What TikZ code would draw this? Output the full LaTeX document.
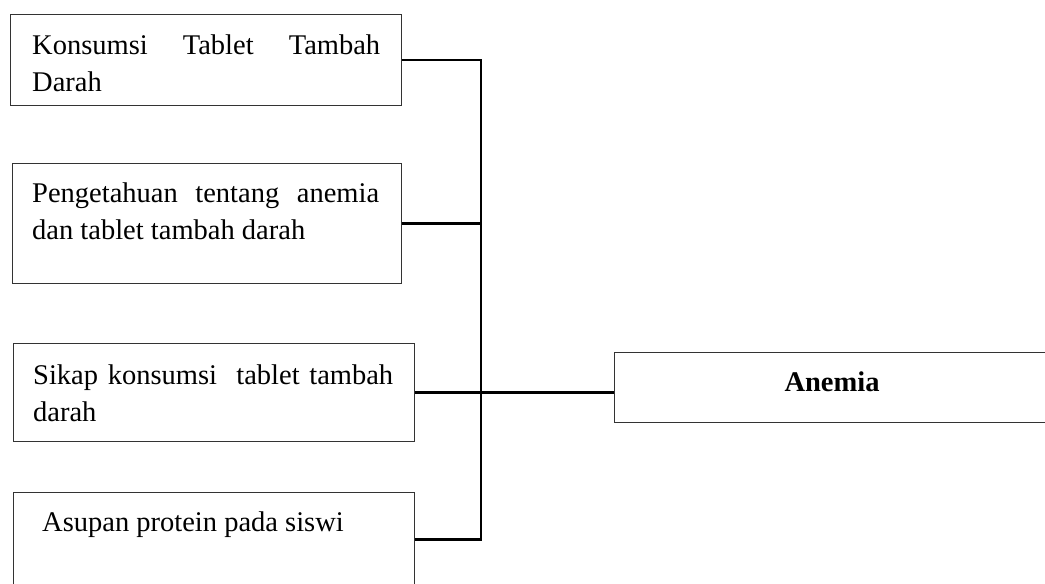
\documentclass[tikz,border=0pt]{standalone}
\usepackage{fontspec}
\setmainfont{Liberation Serif}
\begin{document}
\begin{tikzpicture}[x=1pt,y=-1pt,
  box/.style={draw=black!80,line width=1pt,rectangle,inner sep=0pt,anchor=north west},
  txt/.style={anchor=north west,inner sep=0pt,align=left,font=\fontsize{28.5}{37}\selectfont},
  link/.style={draw=black,line width=2.1pt}]
\useasboundingbox[fill=white] (0,0) rectangle (1045,584);
% boxes
\node[box,minimum width=391pt,minimum height=91pt] (b1) at (10,14) {};
\node[box,minimum width=389pt,minimum height=120pt] (b2) at (12,163) {};
\node[box,minimum width=401pt,minimum height=98pt] (b3) at (13,343) {};
\node[box,minimum width=401pt,minimum height=94pt] (b4) at (13,492) {};
\node[box,minimum width=440pt,minimum height=70pt] (a) at (614,352) {};
% texts
\node[txt] (t1) at (32,28) {\strut\makebox[348pt][s]{Konsumsi Tablet Tambah}\\Darah};
\node[txt] (t2) at (32,176) {\strut\makebox[347pt][s]{Pengetahuan tentang anemia}\\dan tablet tambah darah};
\node[txt] (t3) at (33,358) {\strut\makebox[360pt][s]{Sikap konsumsi\ \ tablet tambah}\\darah};
\node[txt] (t4) at (42,505) {\strut Asupan protein pada siswi};
\node[anchor=base,inner sep=0pt,font=\fontsize{28.5}{37}\selectfont\bfseries] (ta) at (832,391) {Anemia};
% connectors
\coordinate (bus) at (481,0);
\draw[link] (b1.east) -- (b1.east -| bus) -- (b4.east -| bus) -- (b4.east);
\draw[link] (b2.east) -- (b2.east -| bus);
\draw[link] (b3.east) -- (b3.east -| a.west);
\end{tikzpicture}
\end{document}
